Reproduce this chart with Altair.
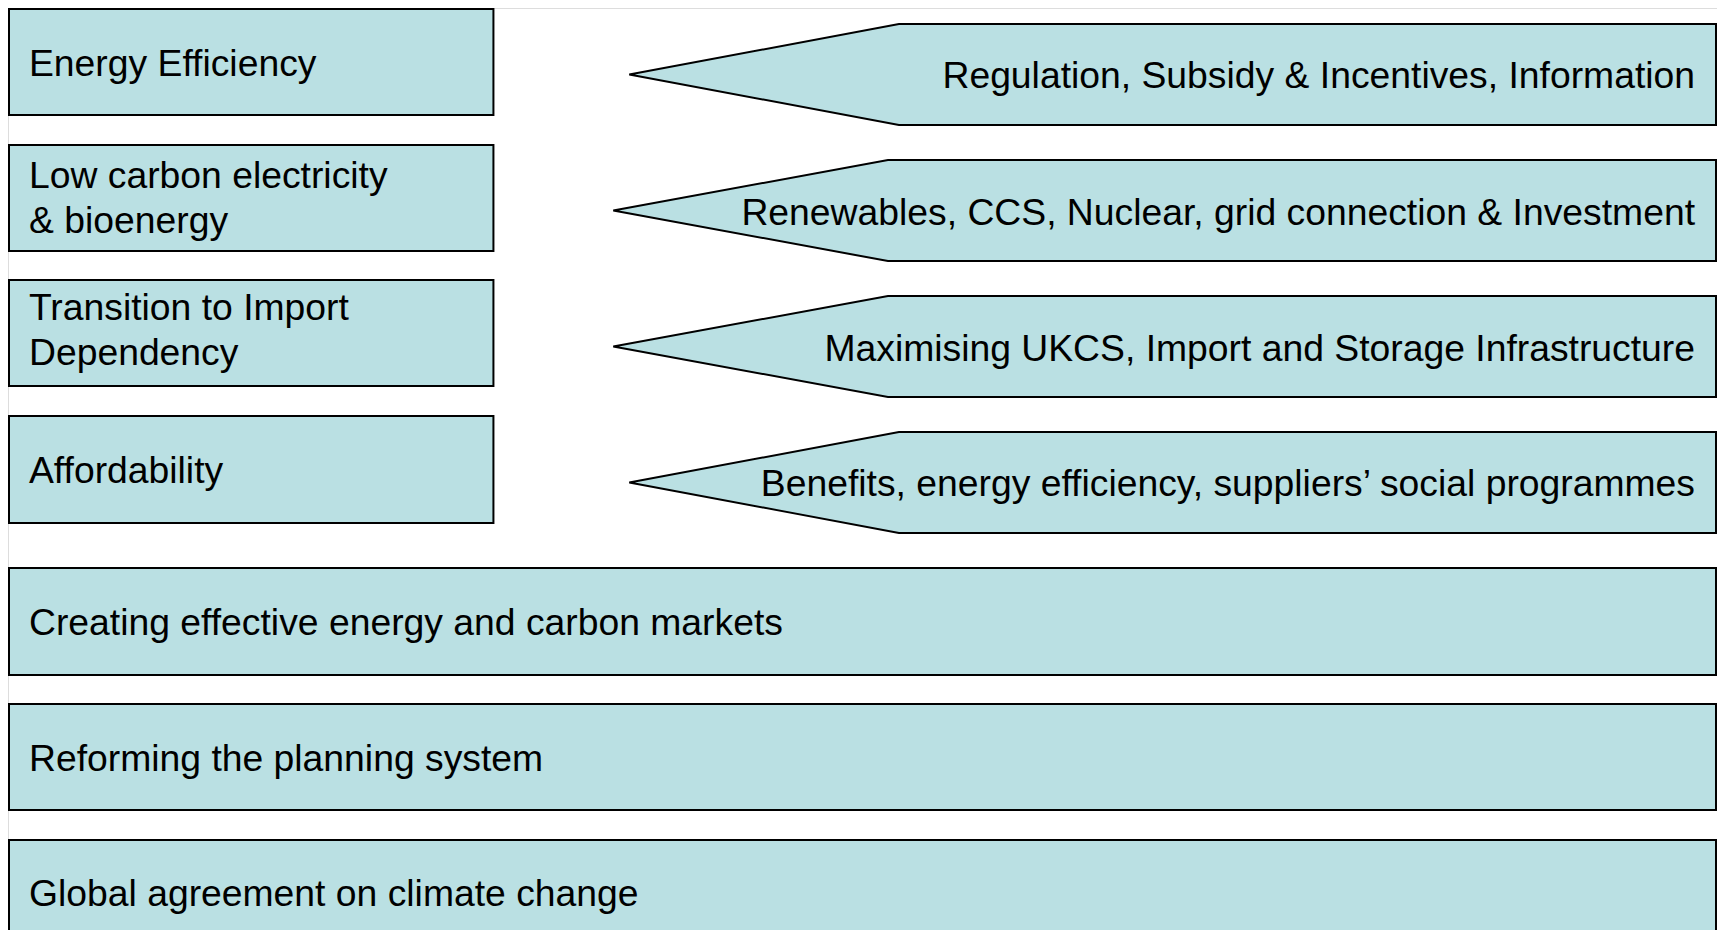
import altair as alt
import pandas as pd

# ---- content ----
box_labels = [
    "Energy Efficiency",
    "Low carbon electricity\n& bioenergy",
    "Transition to Import\nDependency",
    "Affordability",
    "Creating effective energy and carbon markets",
    "Reforming the planning system",
    "Global agreement on climate change",
]
box_top = [6, 142, 277, 413, 565, 701, 837]
box_bottom = [112, 248, 383, 520, 672, 807, 943]
box_right = [492, 492, 492, 492, 1716, 1716, 1716]
box_text_y = [73, 185, 317, 480, 632, 768, 903]

arrow_labels = [
    "Regulation, Subsidy & Incentives, Information",
    "Renewables, CCS, Nuclear, grid connection & Investment",
    "Maximising UKCS, Import and Storage Infrastructure",
    "Benefits, energy efficiency, suppliers\u2019 social programmes",
]
arrow_tip_x = [628, 612, 612, 628]
arrow_corner_x = [898, 887, 887, 898]
arrow_top = [21, 157, 293, 429]
arrow_bottom = [122, 258, 394, 530]
arrow_text_y = [85, 222, 358, 493]

BOX_LEFT = 7
ARROW_RIGHT = 1716
FILL = "#BAE0E3"

# ---- tables ----
boxes = pd.DataFrame({
    "label": box_labels, "x": BOX_LEFT, "x2": box_right,
    "y": box_top, "y2": box_bottom, "ty": box_text_y, "tx": 27,
})

arrow_rows = []
for i in range(len(arrow_labels)):
    mid = (arrow_top[i] + arrow_bottom[i]) / 2
    arrow_rows.append({"id": i, "x": arrow_tip_x[i], "y": mid, "y2": mid})
    arrow_rows.append({"id": i, "x": arrow_corner_x[i], "y": arrow_top[i], "y2": arrow_bottom[i]})
    arrow_rows.append({"id": i, "x": ARROW_RIGHT, "y": arrow_top[i], "y2": arrow_bottom[i]})
arrows = pd.DataFrame(arrow_rows)
arrow_text = pd.DataFrame({"label": arrow_labels, "ty": arrow_text_y, "tx": 1695})

xs = alt.Scale(domain=[6, 1717], nice=False, zero=False)
ys = alt.Scale(domain=[5, 927], nice=False, zero=False, reverse=True)
X = lambda f: alt.X(f, type="quantitative", scale=xs, axis=None)
Y = lambda f: alt.Y(f, type="quantitative", scale=ys, axis=None)

rects = alt.Chart(boxes).mark_rect(fill=FILL, stroke="black", strokeWidth=2).encode(
    x=X("x"), x2="x2", y=Y("y"), y2="y2"
)

arrow_shapes = alt.Chart(arrows).mark_area(
    fill=FILL, stroke="black", strokeWidth=2, interpolate="linear", orient="vertical"
).encode(
    x=X("x"), y=alt.Y("y", type="quantitative", scale=ys, axis=None, stack=None), y2="y2",
    detail="id:N",
)

font = dict(font="Liberation Sans", fontSize=37.3, color="black", baseline="alphabetic",
            lineBreak="\n", lineHeight=45)

left_text = alt.Chart(boxes).mark_text(align="left", **font).encode(
    x=X("tx"), y=Y("ty"), text="label:N"
)
right_text = alt.Chart(arrow_text).mark_text(align="right", **font).encode(
    x=X("tx"), y=Y("ty"), text="label:N"
)

chart = alt.layer(rects, arrow_shapes, left_text, right_text).properties(
    width=1709, height=922, padding=0,
    autosize=alt.AutoSizeParams(type="none"),
).configure_view(stroke=None).configure(background="white")

chart.save("out.html", embed_options={"renderer": "svg", "actions": False})
